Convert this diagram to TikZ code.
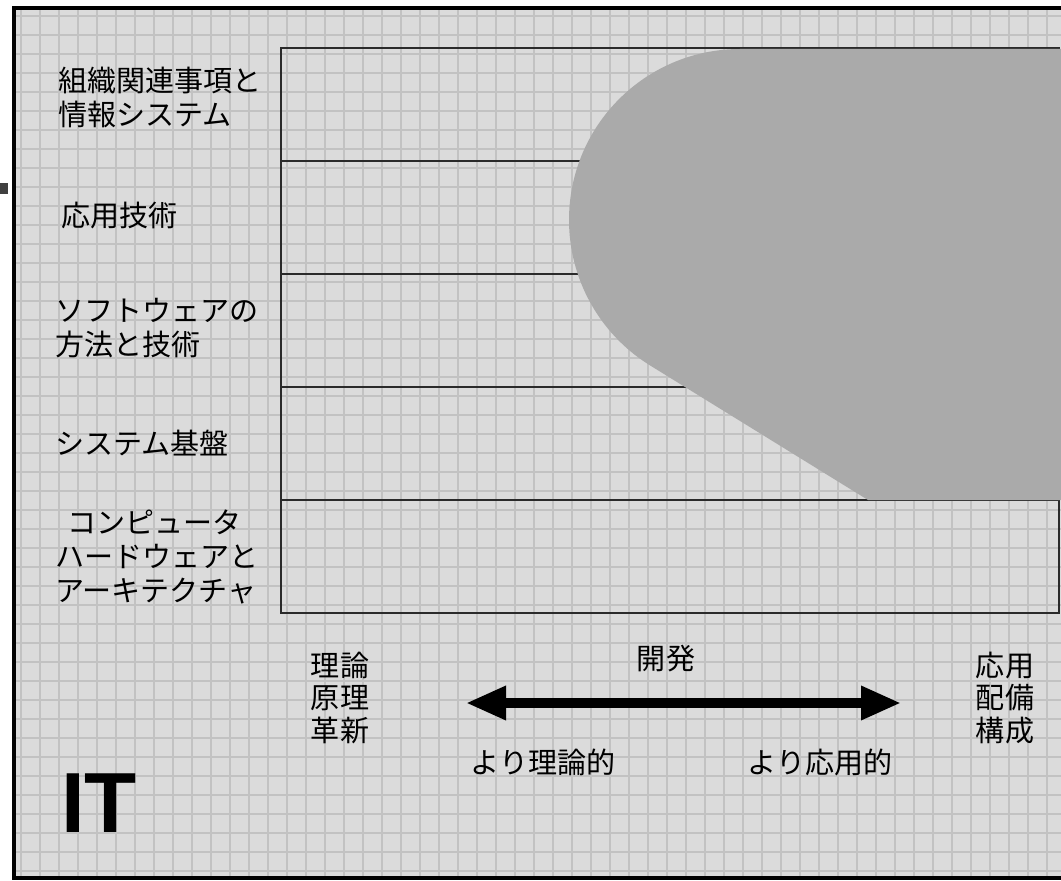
\documentclass[tikz,border=0pt]{standalone}
\usepackage{fontspec}
\newfontfamily\jp{Noto Sans CJK JP}
\newfontfamily\itfont{Liberation Sans}
\usetikzlibrary{arrows.meta}
\definecolor{bgfill}{HTML}{DBDBDB}
\definecolor{gridc}{HTML}{C2C2C2}
\definecolor{shapec}{HTML}{AAAAAA}
\definecolor{linec}{HTML}{2A2A2A}
\tikzset{
  lbl/.style={anchor=west, align=left, inner sep=0pt, font=\jp\fontsize{21.8}{25.5}\selectfont},
  clbl/.style={anchor=center, align=center, inner sep=0pt, font=\jp\fontsize{21.8}{24.5}\selectfont},
  rowline/.style={draw=linec, line width=1.6pt},
}
\begin{document}
\begin{tikzpicture}[x=0.75pt,y=-0.75pt]
\useasboundingbox (0,0) rectangle (1061,881);
\clip (0,0) rectangle (1061,881);
\fill[white] (0,0) rectangle (1061,881);
% background with grid
\fill[bgfill] (14,8) rectangle (1070,878);
\foreach \i in {0,...,55} {
  \draw[gridc, line width=1pt] ({21+19*\i},10) -- ({21+19*\i},876);
}
\foreach \j in {0,...,46} {
  \draw[gridc, line width=1pt] (16,{16+19*\j}) -- (1061,{16+19*\j});
}
% frame
\draw[black, line width=3pt] (14,8) rectangle (1075,878);
\fill[black!75] (0,183) rectangle (8,194);
% row table
\draw[rowline] (281,48) rectangle (1059,613);
\foreach \yy in {161,274,387,500} {
  \draw[rowline] (281,\yy) -- (1059,\yy);
}
% gray shape
\fill[shapec] (1061,49) -- (740,49) arc[start angle=270, end angle=122.3, radius=171] -- (868,500) -- (1061,500) -- cycle;
% left labels
\node[lbl] (l1) at (58,97) {組織関連事項と\\情報システム};
\node[lbl] (l2) at (61,216) {応用技術};
\node[lbl] (l3) at (55,328) {ソフトウェアの\\方法と技術};
\node[lbl] (l4) at (55,443) {システム基盤};
\node[lbl] (l5) at (55,557) {\hspace*{9pt}コンピュータ\\ハードウェアと\\アーキテクチャ};
% bottom
\node[clbl] (t1) at (340,698) {理論\\原理\\革新};
\node[clbl] (t2) at (1005,698) {応用\\配備\\構成};
\node[clbl] (dev) at (666,659) {開発};
\coordinate (al) at (466,703);
\coordinate (ar) at (901,703);
\draw[line width=7pt, {Triangle[length=30pt,width=24pt]}-{Triangle[length=30pt,width=24pt]}] (al) -- (ar);
\node[clbl] (m1) at (543,762) {より理論的};
\node[clbl] (m2) at (820,762) {より応用的};
\node[anchor=center, inner sep=0pt, font=\itfont\bfseries\fontsize{64}{64}\selectfont] (it) at (99,803) {IT};
\end{tikzpicture}
\end{document}
